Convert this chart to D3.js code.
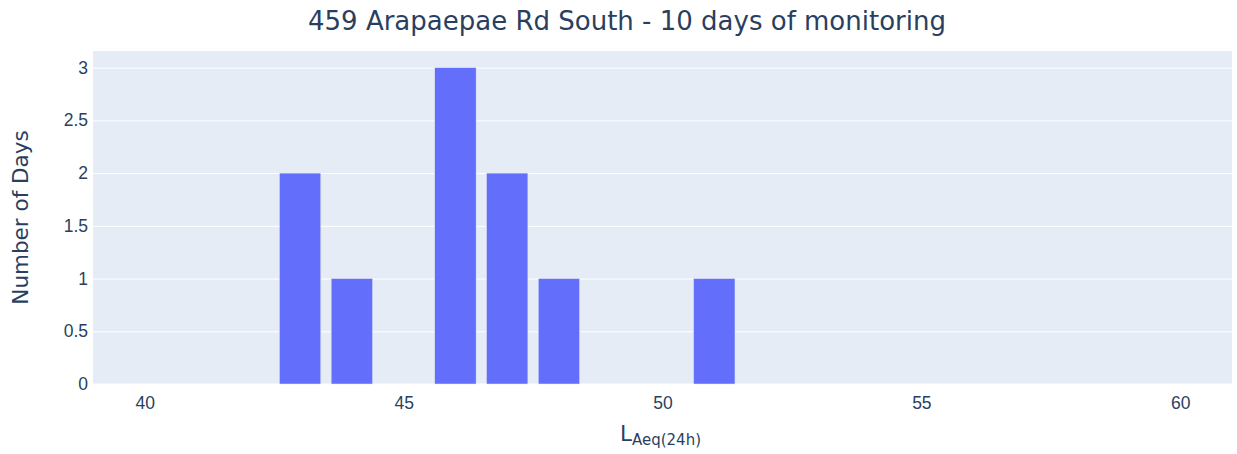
<!DOCTYPE html>
<html>
<head>
<meta charset="utf-8">
<script src="https://cdn.jsdelivr.net/npm/d3@7"></script>
<style>
  html, body { margin: 0; padding: 0; background: #fff; }
  svg { display: block; font-family: "DejaVu Sans", Verdana, sans-serif; }
</style>
</head>
<body>
<svg id="chart" width="1237" height="454"></svg>
<script>
// Daily LAeq(24h) histogram: one bin per dB, count of days in each bin
const binCenters = [43, 44, 45, 46, 47, 48, 49, 50, 51];
const dayCounts  = [2, 1, 0, 3, 2, 1, 0, 0, 1];
const xTicks = [40, 45, 50, 55, 60];
const yTicks = [0, 0.5, 1, 1.5, 2, 2.5, 3];
const titleText = "459 Arapaepae Rd South - 10 days of monitoring";

const W = 1237, H = 454;
const margin = { left: 93, right: 5, top: 51, bottom: 70 };
const plotW = W - margin.left - margin.right;
const plotH = H - margin.top - margin.bottom;
const textColor = "#2a3f5f";
const binWidth = 1, barGap = 0.2;

const svg = d3.select("#chart");

const x = d3.scaleLinear().domain([39, 61]).range([0, plotW]);
const y = d3.scaleLinear().domain([0, 3 * 1.0526]).range([plotH, 0]);

const g = svg.append("g").attr("transform", `translate(${margin.left},${margin.top})`);

// plot background
g.append("rect")
  .attr("width", plotW).attr("height", plotH)
  .attr("fill", "#e5ecf6");

// horizontal gridlines
const yAxis = d3.axisLeft(y).tickValues(yTicks).tickSize(-plotW).tickPadding(6)
  .tickFormat(d => d3.format("")(d));
const yg = g.append("g").call(yAxis);
yg.select(".domain").remove();
yg.selectAll(".tick line").attr("stroke", "#fff").attr("stroke-width", 1);
yg.selectAll(".tick").filter(d => d === 0).select("line").attr("stroke-width", 2);
yg.selectAll(".tick text")
  .attr("fill", textColor).attr("font-size", 17.5).attr("x", -5);

// bars
g.selectAll("rect.bar")
  .data(binCenters.map((c, i) => ({ c, v: dayCounts[i] })))
  .join("rect")
  .attr("class", "bar")
  .attr("x", d => x(d.c - binWidth / 2 + binWidth * barGap / 2))
  .attr("width", d => x(d.c + binWidth / 2 - binWidth * barGap / 2) - x(d.c - binWidth / 2 + binWidth * barGap / 2))
  .attr("y", d => y(d.v))
  .attr("height", d => y(0) - y(d.v))
  .attr("fill", "#636efa")
  .attr("stroke", "#e5ecf6")
  .attr("stroke-width", 0.5);

// x axis labels
const xAxis = d3.axisBottom(x).tickValues(xTicks).tickSize(0).tickPadding(13);
const xg = g.append("g").attr("transform", `translate(0,${plotH})`).call(xAxis);
xg.select(".domain").remove();
xg.selectAll(".tick text").attr("fill", textColor).attr("font-size", 17.5);

// title
svg.append("text")
  .attr("x", 627).attr("y", 30)
  .attr("text-anchor", "middle")
  .attr("fill", textColor)
  .attr("font-size", 26)
  .text(titleText);

// y axis title
svg.append("text")
  .attr("transform", `translate(28,${margin.top + plotH / 2}) rotate(-90)`)
  .attr("text-anchor", "middle")
  .attr("fill", textColor)
  .attr("font-size", 21.5)
  .text("Number of Days");

// x axis title with subscript
const xt = svg.append("text")
  .attr("x", margin.left + plotW / 2 - 2).attr("y", 441)
  .attr("text-anchor", "middle")
  .attr("fill", textColor)
  .attr("font-size", 21.5);
xt.append("tspan").text("L");
xt.append("tspan").attr("dy", 4).attr("font-size", 15).text("Aeq(24h)");
</script>
</body>
</html>
